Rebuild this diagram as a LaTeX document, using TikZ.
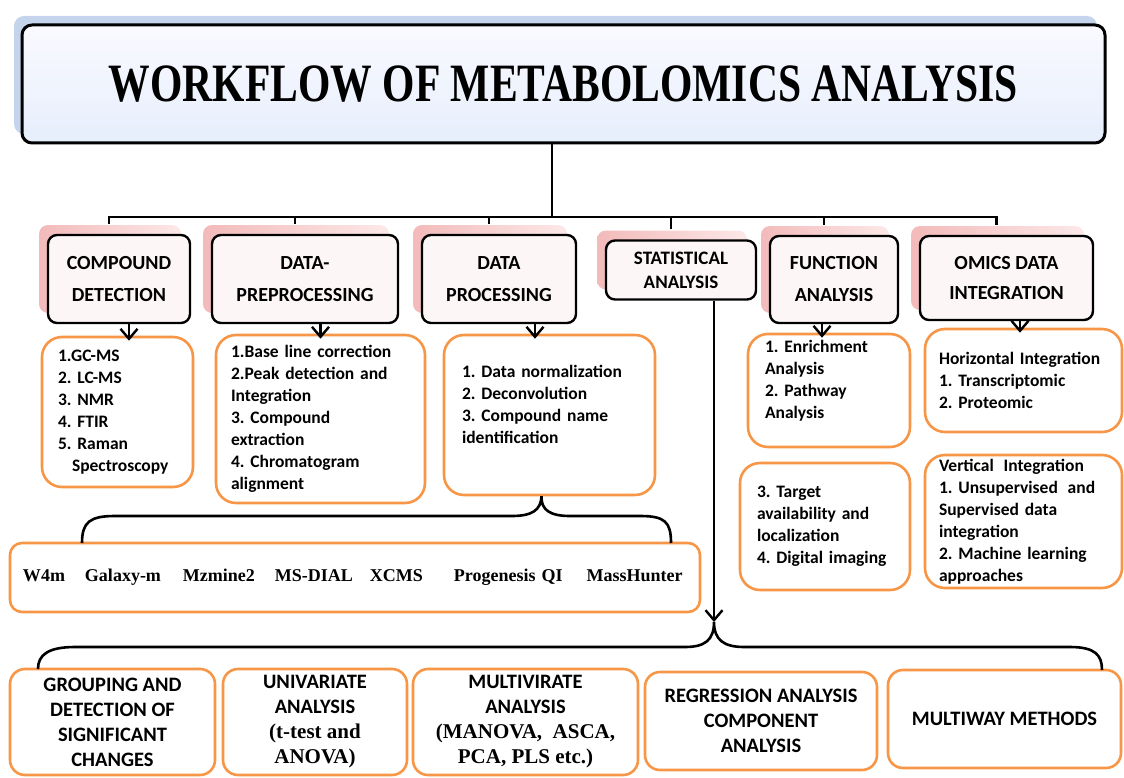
\documentclass[tikz,border=0pt]{standalone}
\usepackage{fontspec}
\usepackage{color}
\setmainfont{Liberation Serif}
\newfontfamily\calib{Carlito}
\usetikzlibrary{arrows.meta,shadows}
\definecolor{orng}{RGB}{247,150,70}
\definecolor{pinkA}{RGB}{243,186,186}
\definecolor{pinkB}{RGB}{252,232,232}
\definecolor{ttlA}{RGB}{250,250,255}
\definecolor{ttlB}{RGB}{230,238,252}
\definecolor{ttlsh}{RGB}{196,212,236}
\definecolor{hdrfill}{RGB}{253,246,246}
\newcommand{\tnr}[1]{{\rmfamily\fontsize{21}{25}\selectfont #1}}
\frenchspacing

\begin{document}
\begin{tikzpicture}[x=1pt,y=-1pt,
  hdr/.style={draw, line width=2.4pt, rounded corners=9pt, fill=hdrfill, align=center,
    font=\calib\bfseries\fontsize{20}{32}\selectfont,
    general shadow={shadow xshift=-9pt, shadow yshift=10pt, draw=none, left color=pinkA, right color=pinkB}},
  lst/.style={draw=orng, line width=2.6pt, rounded corners=20pt, fill=white, align=left,
    inner xsep=16pt, inner ysep=2pt, font=\calib\bfseries\fontsize{17.5}{22}\selectfont},
  res/.style={draw=orng, line width=2.6pt, rounded corners=15pt, fill=white, align=center,
    font=\calib\bfseries\fontsize{20.5}{25}\selectfont},
  arr/.style={line width=2.4pt, -{Straight Barb[length=10pt,width=17pt]}},
  brc/.style={line width=2.6pt}]
\useasboundingbox (0,0) rectangle (1124,778);

\node[draw, line width=3pt, rounded corners=10pt, top color=ttlA, bottom color=ttlB,
  minimum width=1083pt, minimum height=118pt,
  general shadow={shadow xshift=-8pt, shadow yshift=9pt, draw=none, fill=ttlsh},
  font=\bfseries\fontsize{54}{56}\selectfont] (ttl) at (563.5,84)
  {\scalebox{0.77}[1]{WORKFLOW OF METABOLOMICS ANALYSIS}};

\node[hdr, minimum width=142pt, minimum height=88pt] (cd) at (119,279) {COMPOUND\\DETECTION};
\node[hdr, minimum width=186pt, minimum height=88pt] (pre) at (305,279) {DATA-\\PREPROCESSING};
\node[hdr, minimum width=154pt, minimum height=88pt] (dp) at (499,279) {DATA\\PROCESSING};
\node[hdr, minimum width=150pt, minimum height=59pt,
  font=\calib\bfseries\fontsize{19}{24}\selectfont] (st) at (681,270) {STATISTICAL\\ANALYSIS};
\node[hdr, minimum width=128pt, minimum height=87pt] (fa) at (834,279.5) {FUNCTION\\ANALYSIS};
\node[hdr, minimum width=173pt, minimum height=84pt,
  font=\calib\bfseries\fontsize{20}{30}\selectfont] (om) at (1006.5,278) {OMICS DATA\\INTEGRATION};

\coordinate (hub) at (552,217);
\draw[line width=2.4pt] (ttl.south -| hub) -- (hub);
\foreach \n in {cd,pre,dp,st,fa,om}
  \draw[line width=2.4pt] ([xshift=-10pt,yshift=10pt]\n.north) |- (hub);

\node[lst, text width=119pt, minimum height=150pt] (l1) at (117.5,412)
  {1.GC-MS\\2. LC-MS\\3. NMR\\4. FTIR\\5. Raman\\\hspace*{14pt}Spectroscopy};
\node[lst, inner xsep=15pt, text width=179pt, minimum height=168pt] (l2) at (320.5,419)
  {1.Base line correction\\2.Peak detection and\\Integration\\3. Compound\\extraction\\4. Chromatogram\\alignment};
\node[lst, inner xsep=18pt, text width=175pt, minimum height=160pt] (l3) at (549.5,415)
  {1. Data normalization\\2. Deconvolution\\3. Compound name\\identification\\ \mbox{}};
\node[lst, inner xsep=17pt, text width=128pt, minimum height=113pt] (f1) at (829,390.5)
  {1. Enrichment\\Analysis\\2. Pathway\\Analysis\\ \mbox{}};
\node[lst, inner xsep=17pt, text width=136pt, minimum height=127pt] (f2) at (825,526.5)
  {3. Target\\availability and\\localization\\4. Digital imaging};
\node[lst, inner xsep=14pt, text width=169pt, minimum height=103pt] (o1) at (1023.5,380.5)
  {Horizontal Integration\\1. Transcriptomic\\2. Proteomic};
\node[lst, inner xsep=14pt, inner ysep=0pt, text width=169pt, minimum height=133pt] (o2) at (1023.5,521.5)
  {Vertical\hspace{4pt} Integration\\1. Unsupervised\hspace{4pt} and\\Supervised data\\integration\\2. Machine learning\\approaches};

\draw[arr] ([xshift=10pt]cd.south) -- ([xshift=11.5pt,yshift=-5pt]l1.north);
\draw[arr] ([xshift=15.5pt]pre.south) -- ([yshift=-5pt]l2.north);
\draw[arr] ([xshift=36pt]dp.south) -- ([xshift=-14.5pt,yshift=-5pt]l3.north);
\draw[arr] ([xshift=-12pt]fa.south) -- ([xshift=-7pt,yshift=-5pt]f1.north);
\draw[arr] ([xshift=13.5pt]om.south) -- ([xshift=-3.5pt,yshift=-5pt]o1.north);

\node[draw=orng, line width=2.6pt, rounded corners=12pt, fill=white, align=left,
  inner xsep=13pt, text width=664pt, minimum height=69pt,
  font=\bfseries\fontsize{18}{20}\selectfont] (tools) at (355,577.5)
  {W4m\hspace{20pt}Galaxy-m\hspace{22pt}Mzmine2\hspace{20pt}MS-DIAL\hspace{17pt}XCMS\hspace{31pt}Progenesis QI\hspace{24pt}MassHunter};

\coordinate (bl) at (82,543);
\coordinate (br) at (671,543);
\draw[brc] (bl) .. controls (82,522) and (90,516) .. (115,516) -- (512,516)
  .. controls (532,516) and (541,510) .. ([xshift=-8pt]l3.south)
  .. controls (541,510) and (550,516) .. (570,516) -- (640,516)
  .. controls (665,516) and (671,522) .. (br);

\coordinate (bt) at (714,622);
\draw[arr] (st.south -| bt) -- (bt);

\node[res, minimum width=205pt, minimum height=106pt] (g1) at (112.5,722)
  {GROUPING AND\\DETECTION OF\\SIGNIFICANT\\CHANGES};
\node[res, minimum width=184pt, minimum height=106pt] (g2) at (315,722)
  {UNIVARIATE\\ANALYSIS\\\tnr{(t-test and}\\\tnr{ANOVA)}};
\node[res, minimum width=225pt, minimum height=106pt] (g3) at (525.5,722)
  {MULTIVIRATE\\ANALYSIS\\\tnr{(MANOVA,\ \ ASCA,}\\\tnr{PCA, PLS etc.)}};
\node[res, minimum width=232pt, minimum height=98pt] (g4) at (761,721)
  {REGRESSION ANALYSIS\\COMPONENT\\ANALYSIS};
\node[res, minimum width=233pt, minimum height=98pt] (g5) at (1004.5,719)
  {MULTIWAY METHODS};

\coordinate (cl) at (38,669);
\coordinate (cr) at (1102,670);
\draw[brc] (cl) .. controls (38,655) and (48,647) .. (75,647) -- (685,647)
  .. controls (705,647) and (714,640) .. (bt)
  .. controls (714,640) and (724,647) .. (744,647) -- (1070,647)
  .. controls (1095,647) and (1102,655) .. (cr);
\end{tikzpicture}
\end{document}
